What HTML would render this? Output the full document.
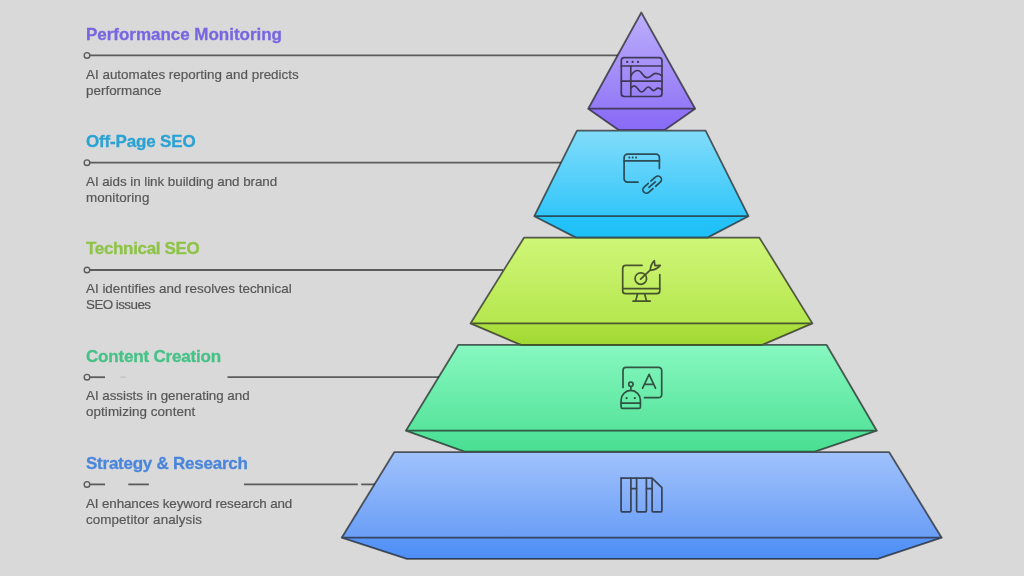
<!DOCTYPE html>
<html><head><meta charset="utf-8">
<style>
html,body{margin:0;padding:0;}
body{width:1024px;height:576px;overflow:hidden;background:#d9d9d9;position:relative;font-family:"Liberation Sans",sans-serif;}
svg{position:absolute;left:0;top:0;}
.t{position:absolute;left:85.6px;font-weight:bold;font-size:17.0px;line-height:17.0px;white-space:nowrap;will-change:transform;-webkit-text-stroke:0.3px currentColor;}
.d{position:absolute;left:85.9px;font-size:13.4px;line-height:13.4px;color:#575757;white-space:nowrap;will-change:transform;-webkit-text-stroke:0.2px #575757;}
</style></head><body>
<svg width="1024" height="576" viewBox="0 0 1024 576">
<defs>
<linearGradient id="g1a" x1="0" y1="0" x2="0" y2="1"><stop offset="0" stop-color="#bcaffc"/><stop offset="1" stop-color="#9479f6"/></linearGradient>
<linearGradient id="g1b" x1="0" y1="0" x2="0" y2="1"><stop offset="0" stop-color="#8f73f7"/><stop offset="1" stop-color="#896bf6"/></linearGradient>
<linearGradient id="g2a" x1="0" y1="0" x2="0" y2="1"><stop offset="0" stop-color="#82dcfa"/><stop offset="1" stop-color="#32c6fa"/></linearGradient>
<linearGradient id="g2b" x1="0" y1="0" x2="0" y2="1"><stop offset="0" stop-color="#26c3f9"/><stop offset="1" stop-color="#1ebff7"/></linearGradient>
<linearGradient id="g3a" x1="0" y1="0" x2="0" y2="1"><stop offset="0" stop-color="#cff678"/><stop offset="1" stop-color="#b5e74e"/></linearGradient>
<linearGradient id="g3b" x1="0" y1="0" x2="0" y2="1"><stop offset="0" stop-color="#ade040"/><stop offset="1" stop-color="#a2d934"/></linearGradient>
<linearGradient id="g4a" x1="0" y1="0" x2="0" y2="1"><stop offset="0" stop-color="#87f8c0"/><stop offset="1" stop-color="#58e49c"/></linearGradient>
<linearGradient id="g4b" x1="0" y1="0" x2="0" y2="1"><stop offset="0" stop-color="#52e39a"/><stop offset="1" stop-color="#4adf93"/></linearGradient>
<linearGradient id="g5a" x1="0" y1="0" x2="0" y2="1"><stop offset="0" stop-color="#a0c2fc"/><stop offset="1" stop-color="#6a9ef6"/></linearGradient>
<linearGradient id="g5b" x1="0" y1="0" x2="0" y2="1"><stop offset="0" stop-color="#5b96f6"/><stop offset="1" stop-color="#4d8ef5"/></linearGradient>
</defs>
<g stroke="#5c5c5c" stroke-width="1.8" stroke-linejoin="round">
<g fill="none">
<line x1="90" y1="55.4" x2="618" y2="55.4"/>
<line x1="90" y1="162.7" x2="561" y2="162.7"/>
<line x1="90" y1="270" x2="503" y2="270"/>
<line x1="90" y1="377.2" x2="105" y2="377.2"/>
<line x1="227.5" y1="377.2" x2="439" y2="377.2"/>
<line x1="90" y1="484.4" x2="105" y2="484.4"/>
<line x1="128.3" y1="484.4" x2="148.9" y2="484.4"/>
<line x1="244" y1="484.4" x2="357.8" y2="484.4"/>
<line x1="361.2" y1="484.4" x2="375" y2="484.4"/>
<line x1="120.5" y1="377.2" x2="125.8" y2="377.2" stroke="#c6c6c6"/>
</g>
<g fill="#d9d9d9" stroke-width="1.4">
<circle cx="87" cy="55.4" r="2.8"/>
<circle cx="87" cy="162.7" r="2.8"/>
<circle cx="87" cy="270" r="2.8"/>
<circle cx="87" cy="377.2" r="2.8"/>
<circle cx="87" cy="484.4" r="2.8"/>
</g>
</g>
<g stroke="none">
<polygon points="394.2,452.2 889.2,452.2 941.7,537.7 341.7,537.7" fill="url(#g5a)"/>
<polygon points="341.7,537.7 941.7,537.7 877.7,558.9 406.9,558.9" fill="url(#g5b)"/>
<polygon points="458.4,344.8 826.5,344.8 876.8,430.7 405.9,430.7" fill="url(#g4a)"/>
<polygon points="405.9,430.7 876.8,430.7 815.0,451.7 464.5,451.7" fill="url(#g4b)"/>
<polygon points="524.0,237.7 759.4,237.7 812.4,323.4 470.5,323.4" fill="url(#g3a)"/>
<polygon points="470.5,323.4 812.4,323.4 761.6,345.2 521.5,345.2" fill="url(#g3b)"/>
<polygon points="577.0,130.7 705.6,130.7 748.5,216.2 534.3,216.2" fill="url(#g2a)"/>
<polygon points="534.3,216.2 748.5,216.2 707.5,237.6 576.0,237.6" fill="url(#g2b)"/>
<polygon points="641.3,12.5 695.2,108.7 588.2,108.7" fill="url(#g1a)"/>
<polygon points="588.2,108.7 695.2,108.7 664.8,130.1 618.6,130.1" fill="url(#g1b)"/>
</g>
<g fill="none" stroke="#191919" stroke-width="1.8" stroke-linejoin="round" opacity="0.68">
<polygon points="394.2,452.2 889.2,452.2 941.7,537.7 877.7,558.9 406.9,558.9 341.7,537.7"/><line x1="341.7" y1="537.7" x2="941.7" y2="537.7"/>
<polygon points="458.4,344.8 826.5,344.8 876.8,430.7 815.0,451.7 464.5,451.7 405.9,430.7"/><line x1="405.9" y1="430.7" x2="876.8" y2="430.7"/>
<polygon points="524.0,237.7 759.4,237.7 812.4,323.4 761.6,345.2 521.5,345.2 470.5,323.4"/><line x1="470.5" y1="323.4" x2="812.4" y2="323.4"/>
<polygon points="577.0,130.7 705.6,130.7 748.5,216.2 707.5,237.6 576.0,237.6 534.3,216.2"/><line x1="534.3" y1="216.2" x2="748.5" y2="216.2"/>
<polygon points="641.3,12.5 695.2,108.7 664.8,130.1 618.6,130.1 588.2,108.7"/><line x1="588.2" y1="108.7" x2="695.2" y2="108.7"/>
</g>
<g opacity="0.72">
<g fill="none" stroke="#191919" stroke-width="1.7" stroke-linecap="round" stroke-linejoin="round">
<!-- icon 1 -->
<rect x="621.3" y="57.6" width="40.7" height="38.9" rx="3"/>
<line x1="621.3" y1="66" x2="662" y2="66"/>
<line x1="630.8" y1="66" x2="630.8" y2="96.5"/>
<line x1="621.3" y1="81.2" x2="662" y2="81.2"/>
<path d="M630.8 76 C633 72 635 70.5 637.7 70.5 C642 70.5 643 77.7 647.2 77.7 C651 77.7 652 73.4 655.8 73.4 C659 73.4 660.5 74.5 662 75.8"/>
<path d="M630.8 88 C632 86.5 633 85.8 634.3 85.8 C637.5 85.8 638.5 92 641.5 92 C644.5 92 645.5 87 648.2 87 C651 87 651.5 90.6 653.4 90.6 C655.5 90.6 656 88.2 658.2 88.2 C660 88.2 661 89.2 662 90.3"/>
<!-- icon 2 -->
<path d="M638 182.2 H627.6 A3.5 3.5 0 0 1 624.1 178.7 V157.6 A3.5 3.5 0 0 1 627.6 154.1 H655.9 A3.5 3.5 0 0 1 659.4 157.6 V168.4"/>
<line x1="624.1" y1="160.8" x2="659.4" y2="160.8"/>
<g transform="translate(652.2 184.6) rotate(-41.3)">
<path d="M1.5 -3.5 H7.7 A3.5 3.5 0 0 1 7.7 3.5 H1.5"/>
<path d="M-2.1 -3.5 H-7.7 A3.5 3.5 0 0 0 -7.7 3.5 H-2.1"/>
<line x1="-4.3" y1="0" x2="4.1" y2="0"/>
</g>
<!-- icon 3 -->
<path d="M642 265.4 H625.7 A3 3 0 0 0 622.7 268.4 V290.7 A3 3 0 0 0 625.7 293.7 H656.8 A3 3 0 0 0 659.8 290.7 V274.6"/>
<line x1="622.7" y1="288.6" x2="659.8" y2="288.6"/>
<path d="M637.6 293.7 L635.6 301.1 M644.6 293.7 L646.6 301.1 M633 301.1 H650.2"/>
<circle cx="640.8" cy="278.6" r="5.8"/>
<path d="M640.6 279.2 L650.2 270.2"/>
<path d="M650.2 270.2 Q650.6 264.5 654.3 260.6 L654.9 265.7 L660.3 265.4 Q656.5 270 650.2 270.2 Z"/>
<!-- icon 4 -->
<path d="M623 387.4 V370.4 A3 3 0 0 1 626 367.4 H658.7 A3 3 0 0 1 661.7 370.4 V394.7 A3 3 0 0 1 658.7 397.7 H644.5"/>
<path d="M642.6 388.2 L649.1 374.3 L655.5 388.2 M644.4 384.4 H653.8"/>
<circle cx="630.9" cy="384.3" r="2.2"/>
<line x1="630.9" y1="386.5" x2="630.9" y2="390.4"/>
<path d="M621.1 400.1 A9.65 9.65 0 0 1 640.4 400.1 V406.9 A1.5 1.5 0 0 1 638.9 408.4 H622.6 A1.5 1.5 0 0 1 621.1 406.9 Z"/>
<line x1="621.1" y1="403.1" x2="640.4" y2="403.1"/>
<!-- icon 5 -->
<path d="M621.1 478.1 H652.1 L661.9 487.7 V510.8 A1 1 0 0 1 660.9 511.8 H653.1 A1 1 0 0 1 652.1 510.8 V478.1"/>
<path d="M621.1 478.1 V510.8 A1 1 0 0 0 622.1 511.8 H629.9 A1 1 0 0 0 630.9 510.8 V478.1"/>
<path d="M636.6 478.1 V510.8 A1 1 0 0 0 637.6 511.8 H645.4 A1 1 0 0 0 646.4 510.8 V478.1"/>
<path d="M630.9 488.6 H636.6 M646.4 488.6 H652.1"/>
</g>
<g fill="#191919">
<circle cx="627.2" cy="61.9" r="1.15"/><circle cx="632.6" cy="61.9" r="1.15"/><circle cx="638" cy="61.9" r="1.15"/>
<circle cx="629.3" cy="157.6" r="1.0"/><circle cx="632.7" cy="157.6" r="1.0"/><circle cx="636.1" cy="157.6" r="1.0"/>
<circle cx="626.6" cy="398.1" r="1.15"/><circle cx="634.8" cy="398.1" r="1.15"/>
</g>
</g>
</svg>

<div class="t" style="top:25.90px;color:#7866e0;letter-spacing:-0.026px">Performance Monitoring</div>
<div class="d" style="top:67.50px;letter-spacing:0.017px">AI automates reporting and predicts</div>
<div class="d" style="top:83.50px;letter-spacing:0.02px">performance</div>
<div class="t" style="top:133.15px;color:#2aa2d4;letter-spacing:-0.167px">Off-Page SEO</div>
<div class="d" style="top:174.75px;letter-spacing:-0.049px">AI aids in link building and brand</div>
<div class="d" style="top:190.75px;letter-spacing:0.09px">monitoring</div>
<div class="t" style="top:240.40px;color:#8ec347;letter-spacing:-0.334px">Technical SEO</div>
<div class="d" style="top:282.00px;letter-spacing:0.005px">AI identifies and resolves technical</div>
<div class="d" style="top:298.00px;letter-spacing:-0.554px">SEO issues</div>
<div class="t" style="top:347.65px;color:#46c187;letter-spacing:-0.184px">Content Creation</div>
<div class="d" style="top:389.25px;letter-spacing:-0.033px">AI assists in generating and</div>
<div class="d" style="top:405.25px;letter-spacing:0.075px">optimizing content</div>
<div class="t" style="top:454.90px;color:#4a86dc;letter-spacing:-0.246px">Strategy &amp; Research</div>
<div class="d" style="top:496.50px;letter-spacing:-0.117px">AI enhances keyword research and</div>
<div class="d" style="top:512.50px;letter-spacing:0.079px">competitor analysis</div>
</body></html>
